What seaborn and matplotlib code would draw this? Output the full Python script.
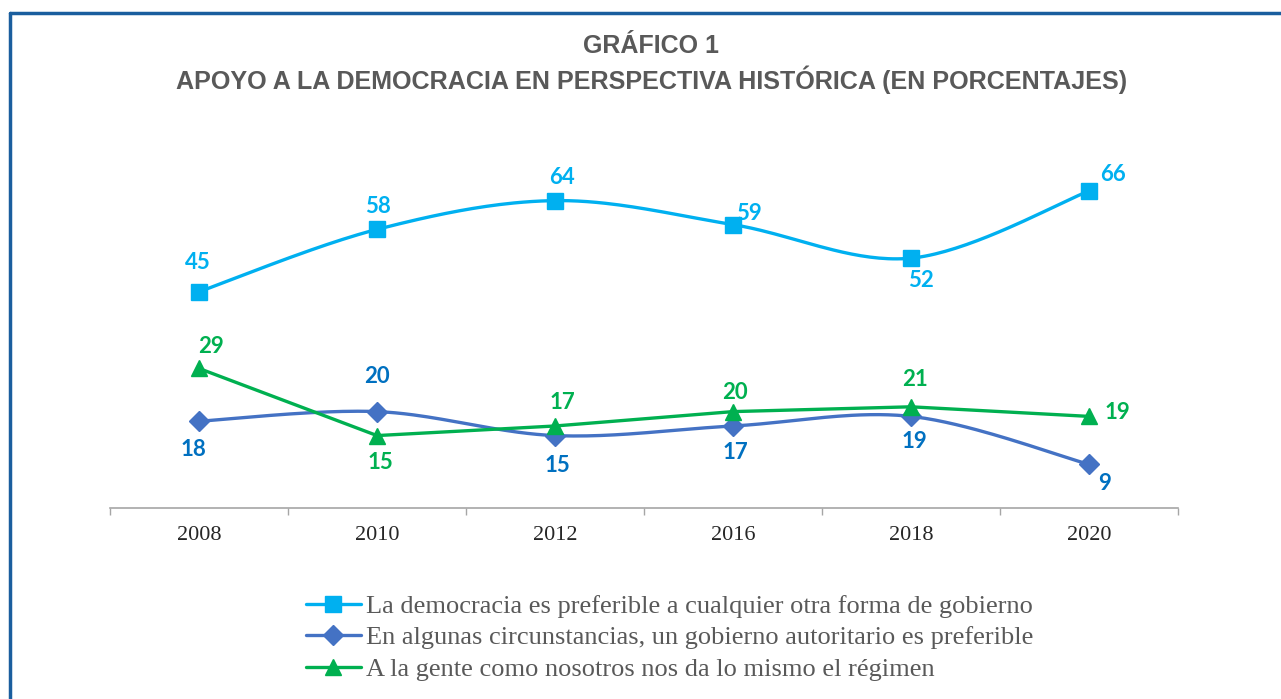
import numpy as np
import pandas as pd
import matplotlib
matplotlib.use('Agg')
import matplotlib.pyplot as plt
from matplotlib.lines import Line2D
import seaborn as sns

# chart data
years = ['2008', '2010', '2012', '2016', '2018', '2020']
democracia = [45, 58, 64, 59, 52, 66]
autoritario = [18, 20, 15, 17, 19, 9]
indiferente = [29, 15, 17, 20, 21, 19]

series_names = [
    'La democracia es preferible a cualquier otra forma de gobierno',
    'En algunas circunstancias, un gobierno autoritario es preferible',
    'A la gente como nosotros nos da lo mismo el régimen',
]

title_lines = ['GRÁFICO 1', 'APOYO A LA DEMOCRACIA EN PERSPECTIVA HISTÓRICA (EN PORCENTAJES)']


# excel-like smoothing (catmull-rom bezier)
def smooth(xs, ys, n=40):
    p = np.column_stack([xs, ys]).astype(float)
    p = np.vstack([p[0], p, p[-1]])
    out = []
    t = np.linspace(0, 1, n)[:, None]
    for i in range(1, len(p) - 2):
        p0, p1, p2, p3 = p[i - 1], p[i], p[i + 1], p[i + 2]
        b1 = p1 + (p2 - p0) / 6
        b2 = p2 - (p3 - p1) / 6
        seg = ((1 - t) ** 3) * p1 + 3 * ((1 - t) ** 2) * t * b1 + 3 * (1 - t) * t ** 2 * b2 + t ** 3 * p2
        out.append(seg if i == 1 else seg[1:])
    out = np.vstack(out)
    return out[:, 0], out[:, 1]


sns.set_theme(style='white')
plt.rcParams['font.family'] = ['Liberation Sans', 'DejaVu Sans']

fig = plt.figure(figsize=(12.81, 6.99), dpi=100)
W, H = 1281, 699
ax = fig.add_axes([110 / W, 1 - 507.5 / H, (1178 - 110) / W, 75 * 4.795 / H])

xpos = np.arange(len(years))
# values, line colour, label colour, marker, marker size, smoothed
styles = [
    (democracia, '#00B0F0', '#00B0F0', 's', 12, True),
    (autoritario, '#4472C4', '#0070C0', 'D', 10, True),
    (indiferente, '#00B050', '#00B050', '^', 12, False),
]

# offsets for value labels in pixels (dx, dy), positive dy = up
offsets = [
    [(-1, 29), (1, 23), (7, 23), (16, 11), (10, -22), (24, 17)],
    [(-6, -28), (0, 35), (2, -30), (2, -27), (3, -25), (16, -19)],
    [(12, 22), (3, -27), (7, 23), (2, 19), (4, 27), (28, 4)],
]

handles = []
for (vals, lc, tc, mk, ms, sm), offs, name in zip(styles, offsets, series_names):
    if sm:
        sx, sy = smooth(xpos, vals)
    else:
        sx, sy = xpos, vals
    sns.lineplot(x=sx, y=sy, ax=ax, color=lc, linewidth=2.4, sort=False, estimator=None)
    ax.plot(xpos, vals, linestyle='none', marker=mk, markersize=ms, color=lc, zorder=5)
    for xi, v, (dx, dy) in zip(xpos, vals, offs):
        ax.annotate(str(v), (xi, v), xytext=(dx * 0.72, dy * 0.72), textcoords='offset points',
                    ha='center', va='center', fontsize=16, fontweight='bold', color=tc,
                    family=['Lato', 'DejaVu Sans'], zorder=6)
    handles.append(Line2D([], [], color=lc, linewidth=2.4, marker=mk, markersize=ms, label=name))

ax.set_xlim(-0.5, len(years) - 0.5)
ax.set_ylim(0, 75)
ax.set_xticks(xpos)
ax.set_xticklabels(years, family=['Liberation Serif'], fontsize=16, color='#262626')
ax.set_xticks(np.arange(len(years) + 1) - 0.5, minor=True)
ax.tick_params(axis='x', which='major', length=0, pad=13)
ax.tick_params(axis='x', which='minor', length=5, width=1, color='#a6a6a6', direction='out', bottom=True)
ax.set_yticks([])
for s in ['top', 'right', 'left']:
    ax.spines[s].set_visible(False)
ax.spines['bottom'].set_color('#a6a6a6')
ax.spines['bottom'].set_linewidth(1.2)
ax.set_facecolor('none')

# titles
fig.text(651 / W, 1 - 46 / H, title_lines[0], ha='center', va='center', fontsize=18,
         fontweight='bold', color='#595959')
fig.text(652 / W, 1 - 80 / H, title_lines[1], ha='center', va='center', fontsize=18.1,
         fontweight='bold', color='#595959')

# legend
leg = fig.legend(handles=handles, loc='upper left', bbox_to_anchor=(295 / W, 1 - 584 / H),
                 frameon=False, prop={'family': 'Liberation Serif', 'size': 19},
                 handlelength=2.1, handletextpad=0.2, labelspacing=0.3, borderaxespad=0)
for t in leg.get_texts():
    t.set_color('#595959')

# frame border
fig.add_artist(Line2D([10 / W, 10 / W], [0, 1 - 13 / H], color='#1A5E9E', linewidth=2.5))
fig.add_artist(Line2D([10 / W, 1], [1 - 13 / H, 1 - 13 / H], color='#1A5E9E', linewidth=2.5))

fig.savefig('out.png', dpi=100)
